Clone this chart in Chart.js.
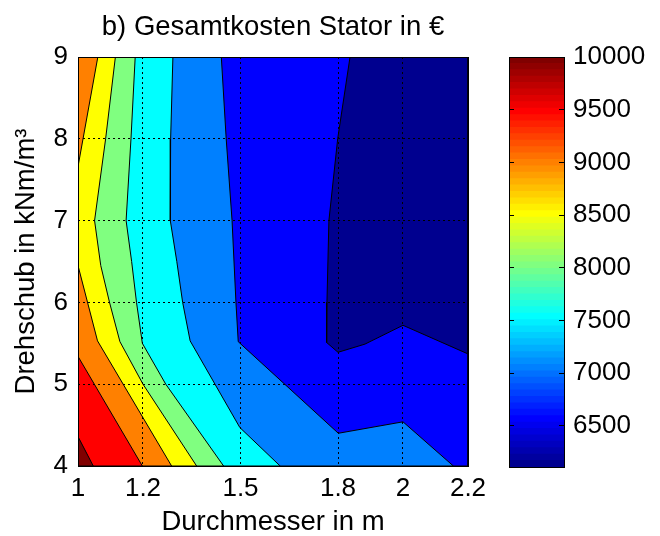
<!DOCTYPE html>
<html lang="de">
<head>
<meta charset="UTF-8">
<title>Gesamtkosten Stator</title>
<script src="https://cdn.jsdelivr.net/npm/chart.js@4.4.1/dist/chart.umd.min.js"></script>
<style>
  body { margin: 0; background: #fff; }
  #wrap { position: relative; width: 660px; height: 536px; }
  #wrap canvas { position: absolute; left: 0; top: 0; }
</style>
</head>
<body>
<div id="wrap">
  <canvas id="contour" width="660" height="536"></canvas>
  <canvas id="colorbar" width="660" height="536"></canvas>
</div>
<script>
// achsen
const xTicks = [1, 1.2, 1.5, 1.8, 2, 2.2];
const yTicks = [4, 5, 6, 7, 8, 9];
const cbTicks = [6500, 7000, 7500, 8000, 8500, 9000, 9500, 10000];
const cbRange = [6110, 10000];

// Isolinien (Durchmesser, Drehschub), niedrigste Stufe zuerst
const iso1 = [[1.837, 9], [1.799, 8], [1.772, 7], [1.766, 6], [1.765, 5.51], [1.80, 5.39], [1.883, 5.49], [2.0, 5.72], [2.2, 5.37]];
const iso2 = [[1.441, 9], [1.456, 8], [1.474, 7], [1.486, 6], [1.493, 5.52], [1.801, 4.40], [2.0, 4.54], [2.155, 4]];
const iso3 = [[1.292, 9], [1.285, 8], [1.284, 7], [1.304, 6.5], [1.322, 6], [1.345, 5.53], [1.498, 4.47], [1.622, 4]];
const iso4 = [[1.176, 9], [1.163, 8], [1.148, 7], [1.165, 6.5], [1.18, 6], [1.198, 5.5], [1.27, 5], [1.448, 4]];
const iso5 = [[1.115, 9], [1.085, 8], [1.051, 7], [1.07, 6.45], [1.097, 6], [1.129, 5.52], [1.2, 5], [1.365, 4]];
const iso6a = [[1.061, 9], [1, 7.66]];
const iso6b = [[1, 6.45], [1.06, 5.53], [1.288, 4]];
const iso7 = [[1, 5.34], [1.198, 4]];
const iso8 = [[1, 4.36], [1.047, 4]];
const fullRect = [[1, 9], [2.2, 9], [2.2, 4], [1, 4]];

Chart.defaults.font.family = '"Liberation Sans", Arial, Helvetica, sans-serif';
Chart.defaults.color = '#000';

// matlab jet(64), idx 1..64
function jet(idx) {
  const t = idx / 64;
  const c = v => Math.round(255 * Math.max(0, Math.min(1, 1.5 - Math.abs(4 * t - v))));
  return 'rgb(' + c(3) + ',' + c(2) + ',' + c(1) + ')';
}
const bandIdx = [1, 8, 16, 24, 32, 40, 48, 56, 64];

// Gebiet >= Stufe: Isolinie plus Ecken links
function region(iso) {
  const pts = iso.slice();
  if (pts[0][1] === 9 && pts[0][0] !== 1) pts.unshift([1, 9]);
  const last = pts[pts.length - 1];
  if (last[0] === 2.2 && last[1] !== 4) pts.push([2.2, 4]);
  if (last[0] !== 1) pts.push([1, 4]);
  pts.push(pts[0]);
  return pts.map(p => ({x: p[0], y: p[1]}));
}

const bands = [
  {iso: fullRect, band: 0}, {iso: iso1, band: 1}, {iso: iso2, band: 2}, {iso: iso3, band: 3},
  {iso: iso4, band: 4}, {iso: iso5, band: 5}, {iso: iso6a, band: 6}, {iso: iso6b, band: 6},
  {iso: iso7, band: 7}, {iso: iso8, band: 8}
];

const boxPlugin = {
  id: 'box',
  afterDraw(chart) {
    const {ctx, chartArea: a} = chart;
    ctx.save();
    ctx.strokeStyle = '#000';
    ctx.lineWidth = 1;
    ctx.strokeRect(Math.round(a.left) + 0.5, Math.round(a.top) + 0.5,
      Math.round(a.right - a.left), Math.round(a.bottom - a.top));
    ctx.restore();
  }
};

const gridOpts = { color: '#000', lineWidth: 1, drawTicks: false, z: 1 };

new Chart(document.getElementById('contour'), {
  type: 'line',
  data: {
    datasets: bands.map(b => ({
      data: region(b.iso),
      order: -b.band,
      backgroundColor: jet(bandIdx[b.band]),
      borderColor: '#000',
      borderWidth: 1,
      fill: 'shape',
      pointRadius: 0,
      tension: 0
    }))
  },
  options: {
    responsive: false,
    animation: false,
    devicePixelRatio: 1,
    events: [],
    layout: { padding: { left: 0, right: 192, top: 0, bottom: 0 } },
    plugins: {
      legend: { display: false },
      tooltip: { enabled: false }
    },
    scales: {
      x: {
        type: 'linear', min: 1, max: 2.2,
        afterBuildTicks: s => { s.ticks = xTicks.map(v => ({value: v})); },
        afterFit: s => { s.height = 70; },
        ticks: { font: { size: 26 }, padding: 7, maxRotation: 0, autoSkip: false, callback: v => String(v) },
        grid: gridOpts,
        border: { display: false, dash: [2, 3] },
        title: { display: true, text: 'Durchmesser in m', font: { size: 27.5, lineHeight: 1 }, padding: 0 }
      },
      // oben nur für den Titel, damit er über der Zeichenfläche zentriert ist
      xTop: {
        type: 'linear', position: 'top', min: 1, max: 2.2,
        afterFit: s => { s.height = 57; },
        ticks: { display: false },
        grid: { display: false },
        border: { display: false },
        title: { display: true, text: 'b) Gesamtkosten Stator in €', font: { size: 27.5, lineHeight: 1 }, padding: { top: 14, bottom: 0 } }
      },
      y: {
        type: 'linear', min: 4, max: 9,
        afterBuildTicks: s => { s.ticks = yTicks.map(v => ({value: v})); },
        afterFit: s => { s.width = 78; },
        ticks: { font: { size: 26 }, padding: 10, callback: v => String(v) },
        grid: gridOpts,
        border: { display: false, dash: [2, 3] },
        title: { display: true, text: 'Drehschub in kNm/m³', font: { size: 27.5, lineHeight: 1 }, padding: { top: 13, bottom: 0 } }
      }
    }
  },
  plugins: [boxPlugin]
});

// Farbskala
const cbSteps = 64;
const cbStep = (cbRange[1] - cbRange[0]) / cbSteps;
const cbDatasets = [];
for (let k = 0; k < cbSteps; k++) {
  const lo = cbRange[0] + k * cbStep;
  cbDatasets.push({
    data: [[lo, Math.min(cbRange[1], lo + cbStep * 1.03)]],
    backgroundColor: jet(k + 1),
    borderWidth: 0,
    barPercentage: 1,
    categoryPercentage: 1,
    grouped: false
  });
}

new Chart(document.getElementById('colorbar'), {
  type: 'bar',
  data: { labels: [''], datasets: cbDatasets },
  options: {
    responsive: false,
    animation: false,
    devicePixelRatio: 1,
    events: [],
    layout: { padding: { left: 509, right: 0, top: 57, bottom: 69 } },
    plugins: { legend: { display: false }, tooltip: { enabled: false } },
    scales: {
      x: { display: false },
      y: {
        position: 'right', min: cbRange[0], max: cbRange[1],
        afterBuildTicks: s => { s.ticks = cbTicks.map(v => ({value: v})); },
        afterFit: s => { s.width = 96; },
        ticks: { font: { size: 26 }, padding: 9, callback: v => String(v) },
        grid: { color: '#000', lineWidth: 1, drawTicks: false, z: 1 },
        border: { display: false, dash: [5, 45] }
      }
    }
  },
  plugins: [boxPlugin]
});
</script>
</body>
</html>
